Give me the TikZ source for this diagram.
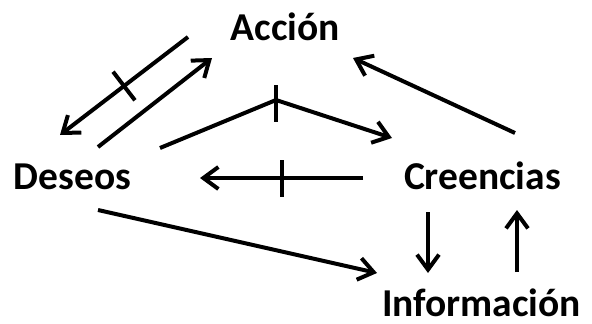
\documentclass[tikz,border=0pt]{standalone}
\usepackage{fontspec}
\setmainfont{Carlito}
\usetikzlibrary{arrows.meta,calc}
\begin{document}
\begin{tikzpicture}[x=1pt,y=-1pt,
  lbl/.style={anchor=base,inner sep=0pt,font=\fontsize{39.5}{42}\selectfont\bfseries},
  link/.style={line width=4pt,-{Straight Barb[length=15pt,width=22pt,line width=4pt]}},
  bar/.style={line width=4pt}]
\useasboundingbox (0,0) rectangle (592,324);
\node[lbl] (acc) at (285.5,40) {Acción};
\node[lbl] (des) at (72.5,189) {Deseos};
\node[lbl] (cre) at (482.5,189) {Creencias};
\node[lbl] (inf) at (481.5,316) {Información};
% endpoints
\coordinate (a1s) at (188,37);  \coordinate (a1e) at (60,135);
\coordinate (a2s) at (98,147);  \coordinate (a2e) at (212,58);
\coordinate (a3s) at (160,148); \coordinate (a3m) at (276,100); \coordinate (a3e) at (392,138);
\coordinate (a4s) at (363,178); \coordinate (a4e) at (200,178);
\coordinate (a5s) at (515,133); \coordinate (a5e) at (353,58);
\coordinate (a6s) at (98,210);  \coordinate (a6e) at (377,273);
\coordinate (a7s) at (428,212); \coordinate (a7e) at (428,273);
\coordinate (a8s) at (517,272); \coordinate (a8e) at (517,210);
% Acción -> Deseos (blocked)
\draw[link] (a1s) -- (a1e);
\coordinate (t1) at ($(a1s)!0.5!(a1e)$);
\draw[bar] ($(t1)!18pt!90:(a1e)$) -- ($(t1)!18pt!-90:(a1e)$);
% Deseos -> Acción
\draw[link] (a2s) -- (a2e);
% Deseos -> Creencias (blocked)
\draw[link] (a3s) -- (a3m) -- (a3e);
\draw[bar] ($(a3m)+(0,-15)$) -- ($(a3m)+(0,22)$);
% Creencias -> Deseos (blocked)
\draw[link] (a4s) -- (a4e);
\coordinate (t4) at ($(a4s)!0.5!(a4e)$);
\draw[bar] ($(t4)+(0,-18)$) -- ($(t4)+(0,19)$);
% Creencias -> Acción
\draw[link] (a5s) -- (a5e);
% Deseos -> Información
\draw[link] (a6s) -- (a6e);
% Creencias <-> Información
\draw[link] (a7s) -- (a7e);
\draw[link] (a8s) -- (a8e);
\end{tikzpicture}
\end{document}
